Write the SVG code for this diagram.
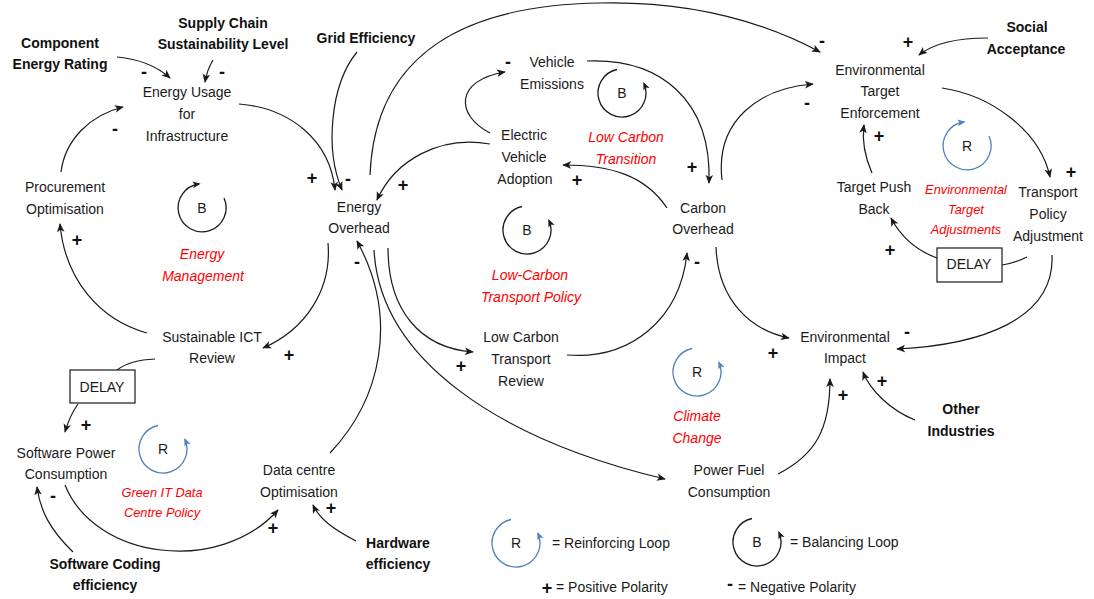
<svg xmlns="http://www.w3.org/2000/svg" width="1094" height="599" viewBox="0 0 1094 599">
  <style>
    text { font-family: "Liberation Sans", Arial, sans-serif; fill: #1a1a1a; }
    .n { font-size: 14px; text-anchor: middle; }
    .x { font-size: 14px; font-weight: bold; text-anchor: middle; fill: #111; }
    .l { font-size: 14px; font-style: italic; text-anchor: middle; fill: #ff0000; }
    .ls { font-size: 12.8px; font-style: italic; text-anchor: middle; fill: #ff0000; }
    .p { font-size: 18px; font-weight: bold; text-anchor: middle; fill: #111; }
    .lg { font-size: 14px; }
    .c { fill: none; stroke: #1a1a1a; stroke-width: 1.2; marker-end: url(#ah); }
    .c0 { fill: none; stroke: #1a1a1a; stroke-width: 1.2; }
    .box { fill: #fff; stroke: #1a1a1a; stroke-width: 1.2; }
    .lb { fill: none; stroke: #1a1a1a; stroke-width: 1.3; marker-end: url(#ahs); }
    .lr { fill: none; stroke: #4f81bd; stroke-width: 1.3; marker-end: url(#ahb); }
  </style>
  <defs>
    <marker id="ah" viewBox="0 0 10 10" refX="9" refY="5" markerWidth="9" markerHeight="9" markerUnits="userSpaceOnUse" orient="auto">
      <path d="M0,0.8 L10,5 L0,9.2 L2.5,5 z" fill="#1a1a1a"/>
    </marker>
    <marker id="ahs" viewBox="0 0 10 10" refX="8" refY="5" markerWidth="8" markerHeight="8" markerUnits="userSpaceOnUse" orient="auto">
      <path d="M0,0.8 L10,5 L0,9.2 L2.5,5 z" fill="#1a1a1a"/>
    </marker>
    <marker id="ahb" viewBox="0 0 10 10" refX="8" refY="5" markerWidth="8" markerHeight="8" markerUnits="userSpaceOnUse" orient="auto">
      <path d="M0,0.8 L10,5 L0,9.2 L2.5,5 z" fill="#4f81bd"/>
    </marker>
  </defs>

  <rect width="1094" height="599" fill="#fff"/>

  <!-- causal links -->
  <g id="connectors">
    <path class="c" d="M117,57 Q150,60 170,78"/>
    <path class="c" d="M213,60 Q207,70 205,82"/>
    <path class="c" d="M239,104 C290,108 330,140 335,190"/>
    <path class="c" d="M357,52 C330,85 325,150 342,190"/>
    <path class="c" d="M61,172 C65,140 90,115 123,107"/>
    <path class="c" d="M147,333 C100,320 65,280 60,224"/>
    <path class="c" d="M328,243 C332,290 305,330 263,348"/>
    <path class="c0" d="M155,359 Q130,360 117,370"/>
    <path class="c" d="M78,404 Q70,415 65,432"/>
    <path class="c" d="M65,485 C95,560 220,575 278,510"/>
    <path class="c" d="M73,552 C50,530 40,510 37,487"/>
    <path class="c" d="M356,541 C335,530 320,520 313,505"/>
    <path class="c" d="M330,453 C380,400 400,320 357,241"/>
    <path class="c" d="M388,248 C388,310 420,348 473,352"/>
    <path class="c" d="M374,250 C380,360 500,440 665,479"/>
    <path class="c" d="M567,355 C630,360 680,320 687,253"/>
    <path class="c" d="M667,208 C645,175 610,165 563,165"/>
    <path class="c" d="M490,133 C455,115 455,80 505,72"/>
    <path class="c" d="M587,61 C660,58 712,100 709,183"/>
    <path class="c" d="M490,144 C440,135 395,160 377,200"/>
    <path class="c" d="M370,175 C375,50 470,5 600,3 C690,1 760,20 820,52"/>
    <path class="c" d="M722,180 C715,120 760,88 813,84"/>
    <path class="c" d="M988,38 Q940,38 919,55"/>
    <path class="c" d="M942,88 C990,95 1040,130 1050,177"/>
    <path class="c0" d="M1027,257 Q1015,263 1002,265"/>
    <path class="c" d="M937,258 C915,250 900,235 891,218"/>
    <path class="c" d="M872,173 C864,155 862,140 864,125"/>
    <path class="c" d="M716,247 C718,300 750,330 789,338"/>
    <path class="c" d="M1052,255 C1055,320 980,345 897,349"/>
    <path class="c" d="M915,420 C890,410 870,390 863,372"/>
    <path class="c" d="M778,474 C815,455 830,430 830,379"/>
  </g>

  <!-- link polarities -->
  <g id="polarities">
    <text class="p" x="144" y="78">-</text>
    <text class="p" x="222" y="78">-</text>
    <text class="p" x="312" y="184">+</text>
    <text class="p" x="348" y="185">-</text>
    <text class="p" x="115" y="135">-</text>
    <text class="p" x="77" y="246">+</text>
    <text class="p" x="289" y="361">+</text>
    <text class="p" x="86" y="431">+</text>
    <text class="p" x="273" y="534">+</text>
    <text class="p" x="53" y="502">-</text>
    <text class="p" x="331" y="514">+</text>
    <text class="p" x="357" y="268">-</text>
    <text class="p" x="461" y="372">+</text>
    <text class="p" x="697" y="268">-</text>
    <text class="p" x="577" y="186">+</text>
    <text class="p" x="508" y="68">-</text>
    <text class="p" x="692" y="173">+</text>
    <text class="p" x="403" y="191">+</text>
    <text class="p" x="822" y="47">-</text>
    <text class="p" x="807" y="109">-</text>
    <text class="p" x="908" y="48">+</text>
    <text class="p" x="1071" y="178">+</text>
    <text class="p" x="890" y="256">+</text>
    <text class="p" x="879" y="142">+</text>
    <text class="p" x="773" y="359">+</text>
    <text class="p" x="907" y="338">-</text>
    <text class="p" x="882" y="387">+</text>
    <text class="p" x="843" y="401">+</text>
  </g>

  <!-- variables -->
  <g id="component-energy-rating"><text class="x" x="60" y="48">Component</text><text class="x" x="60" y="69">Energy Rating</text></g>
  <g id="supply-chain"><text class="x" x="223" y="28">Supply Chain</text><text class="x" x="223" y="49">Sustainability Level</text></g>
  <g id="grid-efficiency"><text class="x" x="366" y="43">Grid Efficiency</text></g>
  <g id="energy-usage"><text class="n" x="187" y="97">Energy Usage</text><text class="n" x="187" y="119">for</text><text class="n" x="187" y="141">Infrastructure</text></g>
  <g id="procurement"><text class="n" x="65" y="192">Procurement</text><text class="n" x="65" y="214">Optimisation</text></g>
  <g id="energy-overhead"><text class="n" x="359" y="212">Energy</text><text class="n" x="359" y="233">Overhead</text></g>
  <g id="vehicle-emissions"><text class="n" x="552" y="67">Vehicle</text><text class="n" x="552" y="89">Emissions</text></g>
  <g id="ev-adoption"><text class="n" x="524" y="140">Electric</text><text class="n" x="524" y="162">Vehicle</text><text class="n" x="525" y="184">Adoption</text></g>
  <g id="carbon-overhead"><text class="n" x="703" y="213">Carbon</text><text class="n" x="703" y="234">Overhead</text></g>
  <g id="low-carbon-transport-review"><text class="n" x="521" y="342">Low Carbon</text><text class="n" x="521" y="364">Transport</text><text class="n" x="521" y="386">Review</text></g>
  <g id="env-target-enforcement"><text class="n" x="880" y="75">Environmental</text><text class="n" x="880" y="96">Target</text><text class="n" x="880" y="118">Enforcement</text></g>
  <g id="social-acceptance"><text class="x" x="1027" y="32">Social</text><text class="x" x="1026" y="54">Acceptance</text></g>
  <g id="target-push-back"><text class="n" x="874" y="192">Target Push</text><text class="n" x="874" y="214">Back</text></g>
  <g id="transport-policy-adjustment"><text class="n" x="1048" y="197">Transport</text><text class="n" x="1048" y="219">Policy</text><text class="n" x="1048" y="241">Adjustment</text></g>
  <g id="delay-right"><rect class="box" x="937" y="248" width="65" height="34"/><text class="n" x="969" y="269">DELAY</text></g>
  <g id="environmental-impact"><text class="n" x="845" y="342">Environmental</text><text class="n" x="845" y="363">Impact</text></g>
  <g id="other-industries"><text class="x" x="961" y="414">Other</text><text class="x" x="961" y="436">Industries</text></g>
  <g id="power-fuel-consumption"><text class="n" x="729" y="475">Power Fuel</text><text class="n" x="729" y="497">Consumption</text></g>
  <g id="sustainable-ict-review"><text class="n" x="212" y="342">Sustainable ICT</text><text class="n" x="212" y="363">Review</text></g>
  <g id="delay-left"><rect class="box" x="70" y="370" width="65" height="33"/><text class="n" x="102" y="392">DELAY</text></g>
  <g id="software-power-consumption"><text class="n" x="66" y="458">Software Power</text><text class="n" x="66" y="479">Consumption</text></g>
  <g id="data-centre-optimisation"><text class="n" x="299" y="475">Data centre</text><text class="n" x="299" y="497">Optimisation</text></g>
  <g id="software-coding-efficiency"><text class="x" x="105" y="569">Software Coding</text><text class="x" x="105" y="590">efficiency</text></g>
  <g id="hardware-efficiency"><text class="x" x="398" y="548">Hardware</text><text class="x" x="398" y="569">efficiency</text></g>

  <!-- feedback loops -->
  <g id="loop-energy-management">
    <path class="lb" d="M224,198 A24,24 0 1 1 199,184"/>
    <text class="n" x="202" y="213">B</text>
    <text class="l" x="202" y="259">Energy</text><text class="l" x="203" y="281">Management</text>
  </g>
  <g id="loop-low-carbon-transition">
    <path class="lb" d="M617,69.5 A24,24 0 1 0 644,83.4"/>
    <text class="n" x="622" y="98">B</text>
    <text class="l" x="626" y="142">Low Carbon</text><text class="l" x="626" y="164">Transition</text>
  </g>
  <g id="loop-low-carbon-transport-policy">
    <path class="lb" d="M522,206.5 A24,24 0 1 0 549,220.4"/>
    <text class="n" x="527" y="235">B</text>
    <text class="l" x="530" y="280">Low-Carbon</text><text class="l" x="531" y="302">Transport Policy</text>
  </g>
  <g id="loop-env-target-adjustments">
    <path class="lr" d="M989,136 A24,24 0 1 1 964,122"/>
    <text class="n" x="967" y="151">R</text>
    <text class="ls" x="966" y="194">Environmental</text><text class="ls" x="966" y="214">Target</text><text class="ls" x="966" y="234">Adjustments</text>
  </g>
  <g id="loop-climate-change">
    <path class="lr" d="M692,348.5 A24,24 0 1 0 719,362.4"/>
    <text class="n" x="697" y="377">R</text>
    <text class="l" x="697" y="421">Climate</text><text class="l" x="697" y="443">Change</text>
  </g>
  <g id="loop-green-it">
    <path class="lr" d="M158,425.5 A24,24 0 1 0 185,439.4"/>
    <text class="n" x="163" y="454">R</text>
    <text class="ls" x="162" y="497">Green IT Data</text><text class="ls" x="162" y="517">Centre Policy</text>
  </g>

  <!-- key -->
  <g id="legend">
    <path class="lr" d="M511,519.5 A24,24 0 1 0 538,533.4"/>
    <text class="n" x="516" y="548">R</text>
    <text class="lg" x="552" y="548">= Reinforcing Loop</text>
    <path class="lb" d="M752,518.5 A24,24 0 1 0 779,532.4"/>
    <text class="n" x="757" y="547">B</text>
    <text class="lg" x="790" y="547">= Balancing Loop</text>
    <text class="p" x="547" y="594">+</text>
    <text class="lg" x="556" y="592">= Positive Polarity</text>
    <text class="p" x="730" y="590">-</text>
    <text class="lg" x="738" y="592">= Negative Polarity</text>
  </g>
</svg>
